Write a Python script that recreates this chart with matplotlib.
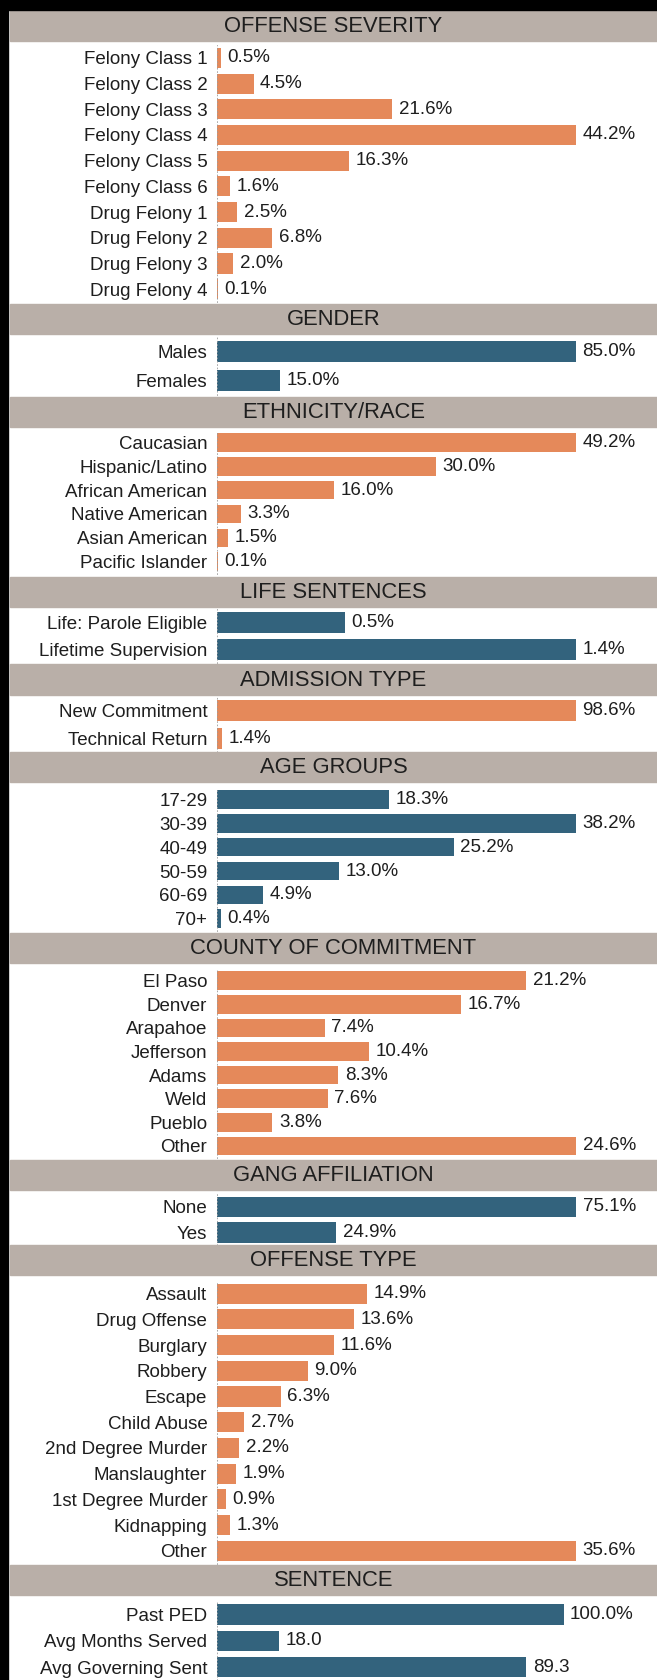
import matplotlib
matplotlib.use("Agg")
import matplotlib.pyplot as plt
from matplotlib.patches import Rectangle

# ---------------------------------------------------------------- data
offense_severity_labels = ["Felony Class 1", "Felony Class 2", "Felony Class 3", "Felony Class 4",
                           "Felony Class 5", "Felony Class 6", "Drug Felony 1", "Drug Felony 2",
                           "Drug Felony 3", "Drug Felony 4"]
offense_severity_values = [0.5, 4.5, 21.6, 44.2, 16.3, 1.6, 2.5, 6.8, 2.0, 0.1]

gender_labels = ["Males", "Females"]
gender_values = [85.0, 15.0]

ethnicity_labels = ["Caucasian", "Hispanic/Latino", "African American", "Native American",
                    "Asian American", "Pacific Islander"]
ethnicity_values = [49.2, 30.0, 16.0, 3.3, 1.5, 0.1]

life_labels = ["Life: Parole Eligible", "Lifetime Supervision"]
life_values = [0.5, 1.4]

admission_labels = ["New Commitment", "Technical Return"]
admission_values = [98.6, 1.4]

age_labels = ["17-29", "30-39", "40-49", "50-59", "60-69", "70+"]
age_values = [18.3, 38.2, 25.2, 13.0, 4.9, 0.4]

county_labels = ["El Paso", "Denver", "Arapahoe", "Jefferson", "Adams", "Weld", "Pueblo", "Other"]
county_values = [21.2, 16.7, 7.4, 10.4, 8.3, 7.6, 3.8, 24.6]

gang_labels = ["None", "Yes"]
gang_values = [75.1, 24.9]

offense_type_labels = ["Assault", "Drug Offense", "Burglary", "Robbery", "Escape", "Child Abuse",
                       "2nd Degree Murder", "Manslaughter", "1st Degree Murder", "Kidnapping", "Other"]
offense_type_values = [14.9, 13.6, 11.6, 9.0, 6.3, 2.7, 2.2, 1.9, 0.9, 1.3, 35.6]

sentence_labels = ["Past PED", "Avg Months Served", "Avg Governing Sent"]
sentence_values = [100.0, 18.0, 89.3]
sentence_units = ["%", "", ""]

# ---------------------------------------------------------------- style
W, H, DPI = 657, 1680, 100
ORANGE = "#E5895A"
BLUE = "#33637D"
HEADER = "#B9AFA8"
TEXT = "#1E1E1E"
FONT = "Liberation Sans"
LABEL_SIZE = 13.5
HEADER_SIZE = 15.8

BAR_LEFT = 217      # px, start of every bar
BAR_SPAN = 359      # px, length of the longest bar in a panel
HEADER_LEFT = 10
HEADER_H = 30

plt.rcParams["font.family"] = [FONT, "DejaVu Sans"]

sections = [
    ("OFFENSE SEVERITY", offense_severity_labels, offense_severity_values, ORANGE, ["%"] * 10),
    ("GENDER", gender_labels, gender_values, BLUE, ["%"] * 2),
    ("ETHNICITY/RACE", ethnicity_labels, ethnicity_values, ORANGE, ["%"] * 6),
    ("LIFE SENTENCES", life_labels, life_values, BLUE, ["%"] * 2),
    ("ADMISSION TYPE", admission_labels, admission_values, ORANGE, ["%"] * 2),
    ("AGE GROUPS", age_labels, age_values, BLUE, ["%"] * 6),
    ("COUNTY OF COMMITMENT", county_labels, county_values, ORANGE, ["%"] * 8),
    ("GANG AFFILIATION", gang_labels, gang_values, BLUE, ["%"] * 2),
    ("OFFENSE TYPE", offense_type_labels, offense_type_values, ORANGE, ["%"] * 11),
    ("SENTENCE", sentence_labels, sentence_values, BLUE, sentence_units),
]

# panel geometry in pixels: header top, first row centre, row pitch
layout = [
    (10.7, 57.9, 25.7),
    (304.4, 351.5, 29.0),
    (396.6, 442.6, 23.8),
    (576.6, 622.7, 26.8),
    (664.5, 710.6, 27.9),
    (752.4, 799.6, 23.8),
    (933.5, 980.7, 23.6),
    (1159.7, 1206.8, 25.7),
    (1245.4, 1293.7, 25.7),
    (1564.8, 1614.5, 26.3),
]
# the sentence panel mixes units, its scale runs a little past 100
scale_max = [None] * 9 + [103.6]

fig = plt.figure(figsize=(W / DPI, H / DPI), dpi=DPI)
fig.patch.set_facecolor("white")


def fy(px):
    return 1 - px / H


# frame: black band on top, black rule down the left side
fig.add_artist(Rectangle((0, fy(10)), 1, 10 / H, transform=fig.transFigure,
                         color="black", zorder=5))
fig.add_artist(Rectangle((0, 0), 8 / W, 1, transform=fig.transFigure,
                         color="black", zorder=5))

for (title, labels, values, color, units), (htop, c0, pitch), smax in zip(sections, layout, scale_max):
    n = len(values)
    # header band
    fig.add_artist(Rectangle((HEADER_LEFT / W, fy(htop + HEADER_H)), (W - HEADER_LEFT) / W,
                             HEADER_H / H, transform=fig.transFigure, color=HEADER, zorder=1))
    fig.text((HEADER_LEFT + W) / 2 / W, fy(htop + HEADER_H / 2 + 0.5), title,
             ha="center", va="center", fontsize=HEADER_SIZE, color=TEXT, zorder=2)

    top = c0 - pitch / 2
    ax = fig.add_axes([BAR_LEFT / W, fy(top + n * pitch), BAR_SPAN / W, n * pitch / H])
    ax.set_facecolor("none")
    xmax = smax if smax is not None else max(values)
    bar_h = min(0.78, 20.5 / pitch)
    ax.barh(range(n), values, height=bar_h, color=color, linewidth=0)
    ax.set_xlim(0, xmax)
    ax.set_ylim(n - 0.5, -0.5)
    ax.set_xticks([])
    ax.set_yticks(range(n))
    ax.set_yticklabels(labels, fontsize=LABEL_SIZE, color=TEXT)
    ax.tick_params(axis="y", length=0, pad=7)
    for side in ("top", "right", "bottom"):
        ax.spines[side].set_visible(False)
    ax.spines["left"].set_linestyle((0, (1, 3)))
    ax.spines["left"].set_color("#9A9A9A")
    ax.spines["left"].set_linewidth(0.6)
    for i, (v, u) in enumerate(zip(values, units)):
        ax.annotate(f"{v:.1f}{u}", (v, i), xytext=(6.5, 0), textcoords="offset pixels",
                    ha="left", va="center", fontsize=LABEL_SIZE, color=TEXT,
                    annotation_clip=False)

fig.savefig("out.png", dpi=DPI, facecolor="white")
